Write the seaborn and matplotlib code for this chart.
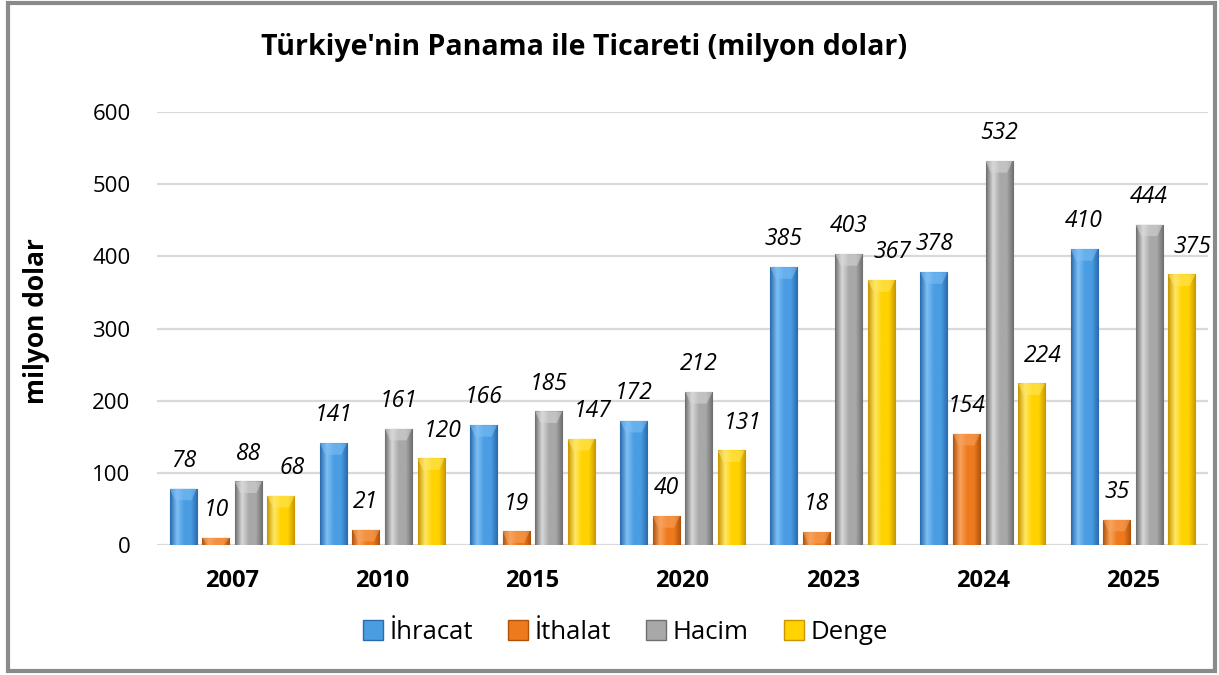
import numpy as np
import pandas as pd
import matplotlib.pyplot as plt
import seaborn as sns
from matplotlib.colors import LinearSegmentedColormap
from matplotlib.patches import Rectangle, Polygon

# Data
years = ["2007", "2010", "2015", "2020", "2023", "2024", "2025"]
ihracat = [78, 141, 166, 172, 385, 378, 410]
ithalat = [10, 21, 19, 40, 18, 154, 35]
hacim = [88, 161, 185, 212, 403, 532, 444]
denge = [68, 120, 147, 131, 367, 224, 375]
series_names = ["İhracat", "İthalat", "Hacim", "Denge"]

df = pd.DataFrame({
    "Yıl": years * 4,
    "Seri": np.repeat(series_names, len(years)),
    "Değer": ihracat + ithalat + hacim + denge,
})

mid_colors = ["#4A9DE2", "#EE7A1E", "#A8A8A8", "#FFD200"]
dark_colors = ["#2A6AAE", "#B0520C", "#6E6E6E", "#C89600"]
light_colors = ["#7EC0F5", "#F8A45E", "#D8D8D8", "#FFE766"]

sns.set_theme(style="white")
plt.rcParams["font.family"] = ["Open Sans", "DejaVu Sans"]
plt.rcParams["text.color"] = "black"
plt.rcParams["xtick.color"] = "black"
plt.rcParams["ytick.color"] = "black"

fig = plt.figure(figsize=(12.19, 6.75), dpi=100)
ax = fig.add_axes([157 / 1219, 1 - 545 / 675, 1051 / 1219, 433 / 675])

sns.barplot(data=df, x="Yıl", y="Değer", hue="Seri", order=years,
            hue_order=series_names, palette=mid_colors, width=0.867,
            gap=0.17, ax=ax, legend=True, saturation=1)

ax.set_ylim(0, 600)
ax.set_xlim(-0.5, 6.5)
ax.set_yticks(range(0, 601, 100))
ax.yaxis.grid(True, color="#D9D9D9", linewidth=1.6)
ax.set_axisbelow(True)
for s in ax.spines.values():
    s.set_visible(False)
ax.tick_params(axis="y", length=0, pad=19, labelsize=16, labelcolor="black")
ax.tick_params(axis="x", length=0, pad=17, labelsize=17, labelcolor="black")
for t in ax.get_xticklabels():
    t.set_fontweight("bold")
ax.set_xlabel("")
ax.set_ylabel("")

# bevel-like shading and labels
for i, cont in enumerate(ax.containers):
    cmap = LinearSegmentedColormap.from_list(
        f"g{i}", [dark_colors[i], light_colors[i], mid_colors[i], mid_colors[i], dark_colors[i]])
    grad = np.linspace(0, 1, 64).reshape(1, -1)
    for bar, val in zip(cont, cont.datavalues):
        x, w, h = bar.get_x(), bar.get_width(), bar.get_height()
        im = ax.imshow(grad, extent=[x, x + w, 0, h], aspect="auto",
                       cmap=cmap, zorder=2, origin="lower")
        im.set_clip_path(bar)
        bar.set_edgecolor(dark_colors[i])
        bar.set_linewidth(0.8)
        bev = min(16, h)
        tri = Polygon([[x, h], [x + w, h], [x + w * 0.8, h - bev], [x + w * 0.2, h - bev]],
                      closed=True, facecolor=light_colors[i], alpha=0.55,
                      edgecolor="none", zorder=3)
        ax.add_patch(tri)
        dx = 8 if i == 3 else 0
        ax.annotate(f"{val:.0f}", (x + w / 2, h), xytext=(dx, 20),
                    textcoords="offset points", ha="center", va="center",
                    fontsize=16.5, style="italic", color="black", zorder=5)

ax.set_xlim(-0.5, 6.5)
ax.set_ylim(0, 600)

leg = ax.get_legend()
handles = leg.legend_handles
leg.remove()
for h, c, d in zip(handles, mid_colors, dark_colors):
    h.set_facecolor(c)
    h.set_edgecolor(d)
fig.legend(handles, series_names, loc="center", bbox_to_anchor=(0.513, 0.063),
           ncol=4, frameon=False, fontsize=18.5, handlelength=0.8, handleheight=0.8,
           columnspacing=1.35, handletextpad=0.25)

fig.text(0.479, 1 - 47 / 675, "Türkiye'nin Panama ile Ticareti (milyon dolar)",
         ha="center", va="center", fontsize=20.5, fontweight="bold", color="black")
fig.text(37 / 1219, 1 - 321 / 675, "milyon dolar", rotation=90,
         ha="center", va="center", fontsize=19, fontweight="bold", color="black")

fig.patches.append(Rectangle((8 / 1219, 4 / 675), 1207 / 1219, 668 / 675,
                             transform=fig.transFigure, fill=False,
                             edgecolor="#8A8A8A", linewidth=3))

fig.savefig("out.png", dpi=100)
